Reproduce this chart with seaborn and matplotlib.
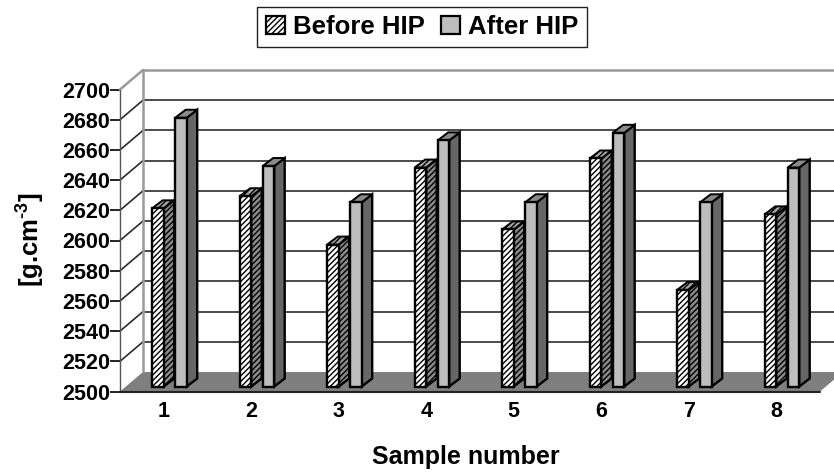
import pandas as pd
import matplotlib.pyplot as plt
import seaborn as sns
from matplotlib.patches import Patch, Polygon

samples = ["1", "2", "3", "4", "5", "6", "7", "8"]
before_hip = [2618, 2626, 2594, 2645, 2604, 2651, 2564, 2614]
after_hip = [2678, 2646, 2622, 2663, 2622, 2668, 2622, 2645]
y_ticks = list(range(2500, 2701, 20))
series_names = ["Before HIP", "After HIP"]

W, H = 834, 474
AX_L, AX_R, AX_B, AX_T = 120, 820, 391.5, 89.5
BASE, TOP = 2500, 2700

sns.set_style("white")
plt.rcParams["font.family"] = ["Liberation Sans"]
plt.rcParams["font.weight"] = "bold"
plt.rcParams["text.color"] = "black"
plt.rcParams["axes.labelcolor"] = "black"
plt.rcParams["xtick.color"] = "black"
plt.rcParams["ytick.color"] = "black"
plt.rcParams["mathtext.fontset"] = "custom"
plt.rcParams["mathtext.bf"] = "Liberation Sans:bold"
plt.rcParams["mathtext.rm"] = "Liberation Sans:bold"
plt.rcParams["hatch.linewidth"] = 1.0

df = pd.DataFrame({
    "sample": samples * 2,
    "density": before_hip + after_hip,
    "stage": [series_names[0]] * len(samples) + [series_names[1]] * len(samples),
})

fig = plt.figure(figsize=(W / 100, H / 100), dpi=100)
ax = fig.add_axes([AX_L / W, 1 - AX_B / H, (AX_R - AX_L) / W, (AX_B - AX_T) / H])
ax.patch.set_visible(False)

sns.barplot(data=df, x="sample", y="density", hue="stage", hue_order=series_names,
            width=0.526, gap=0.5, legend=False, ax=ax, zorder=5)
ax.set_xlim(-0.5, len(samples) - 0.5)
ax.set_ylim(BASE, TOP)

# pixel sizes -> data units
px_x = (len(samples)) / (AX_R - AX_L)
px_y = (TOP - BASE) / (AX_B - AX_T)
wall_dx, wall_dy = 23 * px_x, 19.5 * px_y
bar_dx, bar_dy = 10.5 * px_x, 8 * px_y
shift_x, shift_y = 5.7 * px_x, 5 * px_y
x0, x1 = ax.get_xlim()

# floor, back wall and grid
ax.add_patch(Polygon([(x0, BASE), (x1, BASE), (x1 + wall_dx, BASE + wall_dy), (x0 + wall_dx, BASE + wall_dy)],
                     closed=True, fc="#7f7f7f", ec="none", clip_on=False, zorder=1))
for t in y_ticks[1:]:
    top_line = t == TOP
    c = "#9a9a9a" if top_line else "#2b2b2b"
    lw = 1.8 if top_line else 1.2
    ax.plot([x0 + wall_dx, x1 + wall_dx * 2], [t + wall_dy] * 2, color=c, lw=lw, clip_on=False, zorder=2)
    ax.plot([x0, x0 + wall_dx], [t, t + wall_dy], color=c, lw=lw, clip_on=False, zorder=2)
ax.plot([x0 + wall_dx] * 2, [BASE + wall_dy, TOP + wall_dy], color="#9a9a9a", lw=1.8, clip_on=False, zorder=2)
ax.plot([x0, x0], [BASE, TOP], color="#555555", lw=1.0, clip_on=False, zorder=2)
ax.plot([x0, x1], [BASE, BASE], color="#222222", lw=1.5, clip_on=False, zorder=3)

# 3d faces built from the bars seaborn made
styles = [
    dict(front="white", side="#8a8a8a", top="#a5a5a5", hatch="//////"),
    dict(front="#bdbdbd", side="#666666", top="#8a8a8a", hatch=None),
]
for s, cont in enumerate(ax.containers):
    st = styles[s]
    for p in cont:
        value = p.get_height()
        left = p.get_x() + shift_x
        right = left + p.get_width()
        low = BASE + shift_y
        high = value + shift_y
        p.set_x(left)
        p.set_y(low)
        p.set_height(value - BASE)
        p.set_facecolor(st["front"])
        p.set_edgecolor("black")
        p.set_linewidth(1.7)
        p.set_hatch(st["hatch"])
        p.set_clip_on(False)
        z = 6 + s * 3
        p.set_zorder(z + 2)
        ax.add_patch(Polygon([(right, low), (right + bar_dx, low + bar_dy), (right + bar_dx, high + bar_dy), (right, high)],
                             closed=True, fc=st["side"], ec="black", lw=1.7, hatch=st["hatch"], clip_on=False, zorder=z))
        ax.add_patch(Polygon([(left, high), (right, high), (right + bar_dx, high + bar_dy), (left + bar_dx, high + bar_dy)],
                             closed=True, fc=st["top"], ec="black", lw=1.4, hatch=st["hatch"], clip_on=False, zorder=z + 1))

for sp in ax.spines.values():
    sp.set_visible(False)
ax.set_yticks(y_ticks)
ax.tick_params(axis="y", length=7, width=1.3, color="#111111", labelsize=15.5, pad=0, left=True)
ax.tick_params(axis="x", length=0, labelsize=15.5, pad=7)
ax.set_xlabel("Sample number", fontsize=18, fontweight="bold", va="center")
ax.xaxis.set_label_coords((466 - AX_L) / (AX_R - AX_L), -(457 - AX_B) / (AX_B - AX_T))
ax.set_ylabel(r"[g.cm$^{\text{-3}}$]", fontsize=18.5, fontweight="bold", va="center")
ax.yaxis.set_label_coords((30 - AX_L) / (AX_R - AX_L), (AX_B - 240) / (AX_B - AX_T))

handles = [Patch(fc="white", ec="black", hatch="//////", lw=1.6), Patch(fc="#bdbdbd", ec="black", lw=1.6)]
fig.legend(handles, series_names, loc="center", bbox_to_anchor=(422 / W, 1 - 27 / H), ncol=2,
           prop={"size": 18.5, "weight": "bold", "family": "Liberation Sans"},
           frameon=True, fancybox=False, framealpha=1, edgecolor="#222222",
           handlelength=0.75, handleheight=0.75, handletextpad=0.3, columnspacing=0.65, borderpad=0.33)

fig.savefig("out.png", dpi=100)
